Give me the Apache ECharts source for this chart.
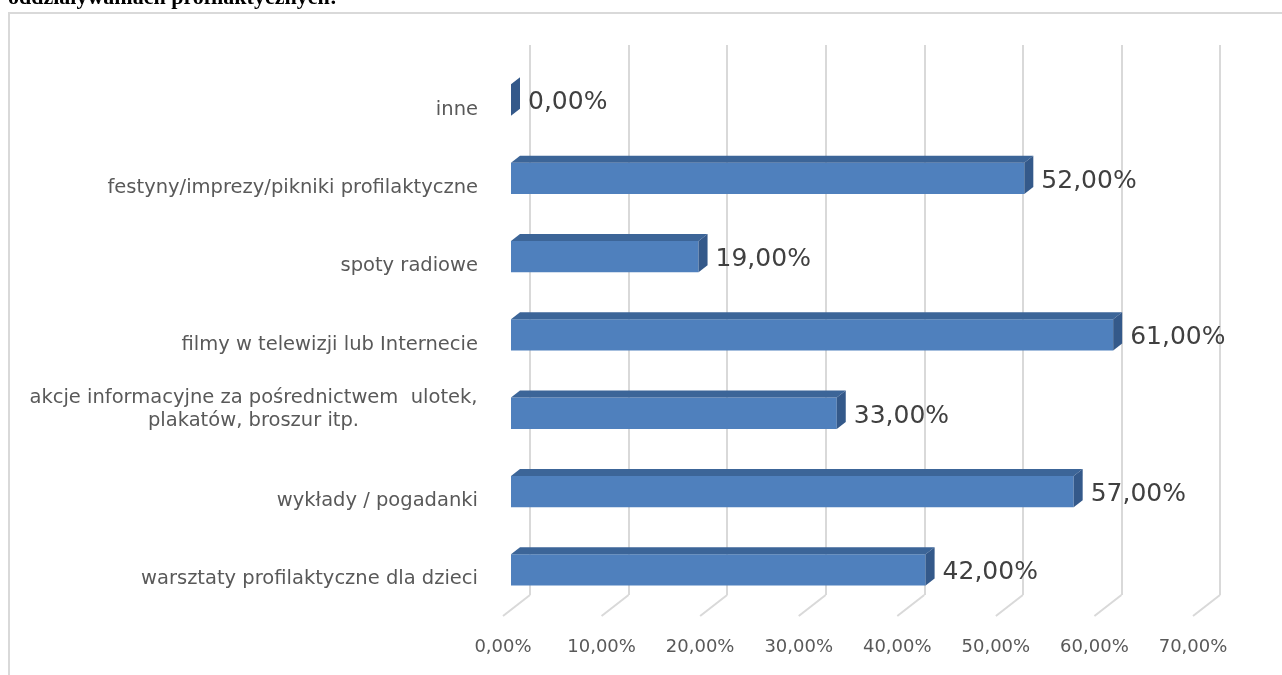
<!DOCTYPE html>
<html>
<head>
<meta charset="utf-8">
<script src="https://cdn.jsdelivr.net/npm/echarts@6/dist/echarts.min.js"></script>
<style>
html,body{margin:0;padding:0;background:#fff;}
#c{width:1282px;height:675px;}
</style>
</head>
<body>
<div id="c"></div>
<script>
// Categories listed bottom to top (ECharts category axis starts at the bottom)
const categories = [
  'warsztaty profilaktyczne dla dzieci',
  'wykłady / pogadanki',
  'akcje informacyjne za pośrednictwem  ulotek,\nplakatów, broszur itp.',
  'filmy w telewizji lub Internecie',
  'spoty radiowe',
  'festyny/imprezy/pikniki profilaktyczne',
  'inne'
];
const values = [42, 57, 33, 61, 19, 52, 0];
const axisTicks = [0, 10, 20, 30, 40, 50, 60, 70];
const titleText = 'oddziaływaniach profilaktycznych:';

const fmtPct = v => v.toFixed(2).replace('.', ',') + '%';
const FONT = 'DejaVu Sans';
const CAT_SIZE = 19.5;

// measure widest line of multi-line category labels (for centred lines)
const mctx = document.createElement('canvas').getContext('2d');
mctx.font = CAT_SIZE + 'px "' + FONT + '"';
function maxLineWidth(s) {
  return Math.ceil(Math.max.apply(null, s.split('\n').map(l => mctx.measureText(l).width)));
}

const chart = echarts.init(document.getElementById('c'), null, {renderer: 'canvas'});

const DX = 9, DY = 7;

function renderBar(params, api) {
  const v = api.value(0);
  const cat = api.value(1);
  const s = api.coord([0, cat]);
  const e = api.coord([v, cat]);
  const band = api.size([0, 1])[1];
  const h = band * 0.4;
  const y0 = s[1] - h / 2;
  const x0 = s[0], x1 = e[0];
  const children = [];
  if (x1 - x0 > 0) {
    children.push({type: 'rect', shape: {x: x0, y: y0, width: x1 - x0, height: h},
      style: {fill: '#4f80bd'}});
    children.push({type: 'polygon', shape: {points: [[x0, y0], [x1, y0], [x1 + DX, y0 - DY], [x0 + DX, y0 - DY]]},
      style: {fill: '#3c6598'}});
  }
  children.push({type: 'polygon', shape: {points: [[x1, y0], [x1 + DX, y0 - DY], [x1 + DX, y0 + h - DY], [x1, y0 + h]]},
    style: {fill: '#34598a'}});
  children.push({type: 'text', x: x1 + DX + 8, y: s[1] + 3,
    style: {text: fmtPct(v), fill: '#404040', font: '25px "' + FONT + '"', textVerticalAlign: 'middle', textAlign: 'left'}});
  return {type: 'group', children: children};
}

function renderFloor(params, api) {
  const v = api.value(0);
  const p = api.coord([v, 0]);
  return {type: 'line', shape: {x1: p[0], y1: p[1], x2: p[0] - 27, y2: p[1] + 21},
    style: {stroke: '#d9d9d9', lineWidth: 2}};
}

const option = {
  backgroundColor: '#fff',
  animation: false,
  title: {
    text: titleText, left: 8, top: -13, padding: 0,
    textStyle: {fontFamily: 'Liberation Serif', fontWeight: 'bold', fontSize: 22, color: '#000'}
  },
  graphic: [{
    type: 'rect', shape: {x: 9, y: 13, width: 1400, height: 800},
    style: {fill: null, stroke: '#d9d9d9', lineWidth: 2}, z: -10
  }],
  grid: [
    // back wall (grid lines)
    {left: 530, width: 690, top: 45, height: 550},
    // bars
    {left: 511, width: 691, top: 60.8, height: 548.3},
    // tick labels (front floor edge)
    {left: 503, width: 690, top: 45, height: 571},
    // category labels
    {left: 511, width: 691, top: 70.3, height: 548.3}
  ],
  xAxis: [
    {gridIndex: 0, type: 'value', min: 0, max: 70, interval: 10,
      axisLine: {show: false}, axisTick: {show: false}, axisLabel: {show: false},
      splitLine: {show: true, lineStyle: {color: '#d9d9d9', width: 2}}},
    {gridIndex: 1, type: 'value', min: 0, max: 70, interval: 10, show: false},
    {gridIndex: 2, type: 'value', min: 0, max: 70, interval: 10,
      axisLine: {show: false}, axisTick: {show: false}, splitLine: {show: false},
      axisLabel: {margin: 22, formatter: v => fmtPct(v), fontFamily: FONT, fontSize: 18, color: '#595959'}},
    {gridIndex: 3, type: 'value', min: 0, max: 70, show: false}
  ],
  yAxis: [
    {gridIndex: 0, type: 'value', min: 0, max: 1, show: false},
    {gridIndex: 1, type: 'category', data: categories, show: false},
    {gridIndex: 2, type: 'value', min: 0, max: 1, show: false},
    {gridIndex: 3, type: 'category', data: categories,
      axisLine: {show: false}, axisTick: {show: false}, splitLine: {show: false},
      axisLabel: {
        margin: 33, fontFamily: FONT, fontSize: CAT_SIZE, color: '#595959',
        formatter: function (v) {
          if (v.indexOf('\n') >= 0) {
            return v.split('\n').map(l => '{c|' + l + '}').join('\n') + '\n{e| }';
          }
          return '{r|' + v + '}';
        },
        rich: {
          c: {width: maxLineWidth(categories[2]), align: 'center', fontFamily: FONT, fontSize: CAT_SIZE, color: '#595959', lineHeight: 23},
          e: {fontSize: 10, lineHeight: 26},
          r: {fontFamily: FONT, fontSize: CAT_SIZE, color: '#595959'}
        }
      }}
  ],
  series: [
    {type: 'custom', xAxisIndex: 0, yAxisIndex: 0, renderItem: renderFloor,
      data: axisTicks.map(t => [t]), encode: {x: 0}, silent: true},
    {type: 'custom', xAxisIndex: 1, yAxisIndex: 1, renderItem: renderBar,
      data: values.map((v, i) => [v, i]), encode: {x: 0, y: 1}, z: 5}
  ]
};
chart.setOption(option);
</script>
</body>
</html>
